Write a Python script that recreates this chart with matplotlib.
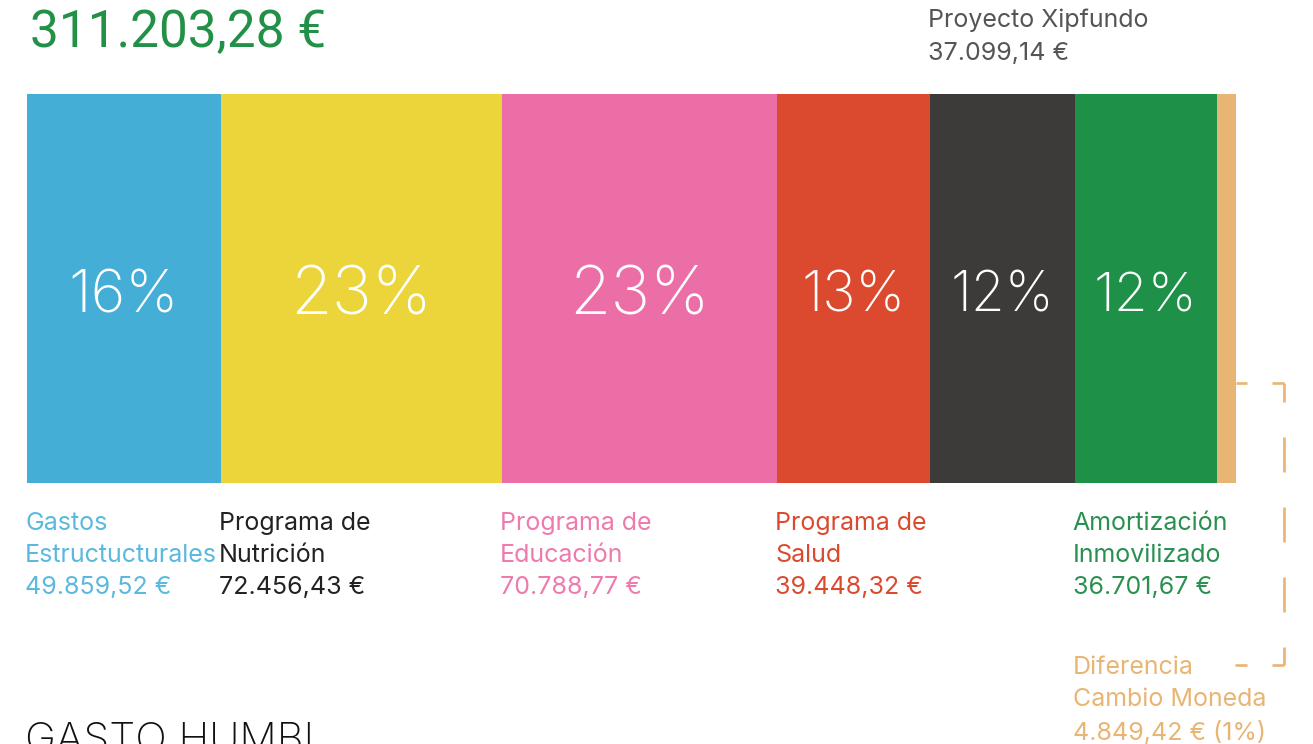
import matplotlib
matplotlib.use('Agg')
import matplotlib.pyplot as plt
import matplotlib.transforms as mtransforms
import numpy as np

plt.rcParams['font.family'] = ['Inter', 'DejaVu Sans']
plt.rcParams['lines.scale_dashes'] = False

total_label = '311.203,28 €'
names = ['Gastos\nEstructucturales', 'Programa de\nNutrición', 'Programa de\nEducación',
         'Programa de\nSalud', 'Proyecto Xipfundo', 'Amortización\nInmovilizado',
         'Diferencia\nCambio Moneda']
amounts = [49859.52, 72456.43, 70788.77, 39448.32, 37099.14, 36701.67, 4849.42]
amount_labels = ['49.859,52 €', '72.456,43 €', '70.788,77 €', '39.448,32 €',
                 '37.099,14 €', '36.701,67 €', '4.849,42 € (1%)']
pct_labels = ['16%', '23%', '23%', '13%', '12%', '12%', '']
bar_colors = ['#45AED6', '#ECD53A', '#EC6EA7', '#DB4A2F', '#3C3B3A', '#1E9048', '#E8B574']
text_colors = ['#5BB8DE', '#222222', '#EE7AAE', '#DB4A2F', '#555555', '#2A9050', '#E8B574']

W, H = 1313, 744
fig = plt.figure(figsize=(W / 100, H / 100), dpi=100)
fig.patch.set_facecolor('white')

values = np.array(amounts)
lefts = np.concatenate([[0], np.cumsum(values)[:-1]])
total = values.sum()

ax = fig.add_axes([27 / W, 1 - 483 / H, 1209 / W, 389 / H])
ax.barh(0, values, left=lefts, height=1, color=bar_colors, linewidth=0)
ax.set_xlim(0, total)
ax.set_ylim(-0.5, 0.5)
ax.axis('off')

# overlay in pixel coords for text placement
ov = fig.add_axes([0, 0, 1, 1], zorder=5)
ov.set_xlim(0, W)
ov.set_ylim(H, 0)
ov.axis('off')
ov.patch.set_alpha(0)
tr = mtransforms.blended_transform_factory(ax.transData, ov.transData)
nudge = mtransforms.ScaledTranslation(-2 / 100, 0, fig.dpi_scale_trans)

ov.text(30, 33, total_label, fontsize=37, color='#239048', va='center', ha='left',
        family=['Roboto', 'DejaVu Sans'])

share = values / total
for i in range(len(values)):
    if pct_labels[i]:
        ov.text(lefts[i] + values[i] / 2, 297, pct_labels[i], transform=tr,
                fontsize=30 + 80 * share[i], color='white', ha='center', va='center',
                fontweight='light')

for i in range(len(values)):
    txt = names[i] + '\n' + amount_labels[i]
    x = lefts[i]
    y = 512
    if i == 4:
        y = 9
    if i == 6:
        x = lefts[5]
        y = 656
    ov.text(x, y, txt, transform=tr + nudge, fontsize=18, color=text_colors[i],
            ha='left', va='top', linespacing=1.5)

# dashed bracket linking the small segment to its label (each side dashed on its own)
px = 0.72
bracket = dict(color='#E8B574', lw=1.9, solid_capstyle='butt', dash_capstyle='butt')
ov.plot([1284, 1236], [383, 383], linestyle=(0, (12 * px, 25 * px)), **bracket)
ov.plot([1284, 1284], [383, 665], linestyle=(16 * px, (35 * px, 35 * px)), **bracket)
ov.plot([1284, 1234], [665, 665], linestyle=(0, (12 * px, 25 * px)), **bracket)

ov.text(25, 722, 'GASTO HUMBL', fontsize=30, color='#111111', ha='left', va='top',
        fontweight='light')

fig.savefig('out.png', dpi=100, facecolor='white')
